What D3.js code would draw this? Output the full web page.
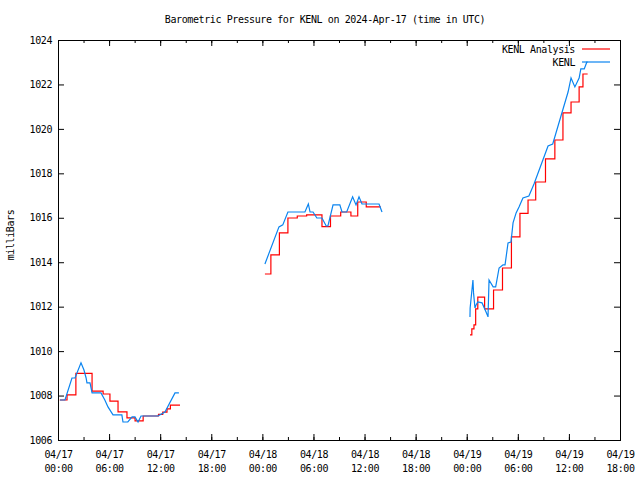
<!DOCTYPE html>
<meta charset="utf-8">
<title>Barometric Pressure for KENL</title>
<style>

    body {
        margin: 0;
        background: #fff;
    }

    text {
        font-family: "DejaVu Sans Mono", monospace;
        font-size: 10px;
        letter-spacing: -0.4px;
        fill: #000;
    }

    .line {
        fill: none;
        stroke-width: 1.2px;
    }

</style>
<body>
<script src="https://cdnjs.cloudflare.com/ajax/libs/d3/7.8.5/d3.min.js"></script>
<script>

    // hours after 2024-04-17 00:00 UTC, pressure in mb
    var analysisHours1 = [0.2, 1.06, 2.1, 4.0, 5.3, 6.1, 7.05, 8.1, 9.05, 10.0, 11.8, 12.3, 12.8, 13.2, 14.33],
        analysisValues1 = [1007.8, 1008.03, 1009.0, 1008.2, 1008.07, 1007.75, 1007.27, 1007.0, 1006.86, 1007.08, 1007.15, 1007.25, 1007.4, 1007.57, 1007.57];

    var analysisHours2 = [24.3, 25.0, 26.0, 27.0, 28.1, 29.2, 31.0, 32.0, 33.2, 34.4, 35.2, 36.2, 37.9],
        analysisValues2 = [1013.47, 1014.33, 1015.32, 1015.99, 1016.08, 1016.13, 1015.6, 1016.08, 1016.26, 1016.08, 1016.71, 1016.49, 1016.49];

    var analysisHours3 = [48.38, 48.6, 48.85, 49.05, 49.3, 50.1, 51.15, 52.2, 53.25, 54.25, 55.2, 56.1, 57.25, 58.35, 59.3, 60.25, 61.2, 61.65, 62.2],
        analysisValues3 = [1010.73, 1011.0, 1011.18, 1011.9, 1012.43, 1011.9, 1012.75, 1013.74, 1015.14, 1016.2, 1016.8, 1017.61, 1018.65, 1019.5, 1020.72, 1021.21, 1021.89, 1022.47, 1022.47];

    var obsHours1 = [0.23, 0.82, 1.64, 2.0, 2.7, 3.05, 3.3, 3.4, 3.76, 4.0, 5.05, 5.5, 5.87, 6.46, 7.5, 7.63, 8.2, 8.7, 9.04, 9.4, 9.75, 11.74, 12.56, 13.74, 14.2],
        obsValues1 = [1007.8, 1007.8, 1008.79, 1008.79, 1009.47, 1009.15, 1008.79, 1008.57, 1008.57, 1008.12, 1008.12, 1007.8, 1007.49, 1007.13, 1007.13, 1006.81, 1006.81, 1007.04, 1007.04, 1006.81, 1007.08, 1007.08, 1007.26, 1008.12, 1008.12];

    var obsHours2 = [24.3, 25.95, 26.4, 27.0, 29.0, 29.4, 29.6, 29.95, 30.4, 31.0, 31.5, 31.7, 32.3, 33.1, 33.35, 33.9, 34.6, 35.0, 35.35, 35.7, 37.7, 38.05],
        obsValues2 = [1013.92, 1015.59, 1015.68, 1016.26, 1016.26, 1016.62, 1016.26, 1016.26, 1015.99, 1015.99, 1015.63, 1015.63, 1016.58, 1016.58, 1016.26, 1016.26, 1016.94, 1016.58, 1016.94, 1016.62, 1016.62, 1016.26];

    var obsHours3 = [48.38, 48.4, 48.73, 48.8, 48.97, 49.1, 49.3, 49.8, 50.27, 50.5, 50.62, 51.1, 51.4, 51.8, 52.26, 52.5, 52.85, 53.2, 53.44, 53.8, 54.14, 54.6, 55.3, 55.9, 57.55, 58.1, 59.9, 60.25, 60.7, 61.2, 61.4, 61.8, 62.1, 62.2],
        obsValues3 = [1011.54, 1011.94, 1013.2, 1012.62, 1011.94, 1012.08, 1012.21, 1012.17, 1011.76, 1011.54, 1013.2, 1012.89, 1012.89, 1013.74, 1013.88, 1013.88, 1014.87, 1014.91, 1015.77, 1016.22, 1016.49, 1016.89, 1016.98, 1017.52, 1019.23, 1019.32, 1021.66, 1022.29, 1021.89, 1022.29, 1022.7, 1022.7, 1023.0, 1023.0];

    var yTicks = [1006, 1008, 1010, 1012, 1014, 1016, 1018, 1020, 1022, 1024];

    var title = "Barometric Pressure for KENL on 2024-Apr-17 (time in UTC)",
        yLabel = "milliBars",
        analysisName = "KENL Analysis",
        obsName = "KENL",
        analysisColor = "#ff0000",
        obsColor = "#0a84f0";

    var w = 640,
        h = 480,
        plotLeft = 58,
        plotRight = 620,
        plotTop = 40,
        plotBottom = 440;

    var t0 = Date.UTC(2024, 3, 17, 0);

    function toDate(hr) {
        return new Date(t0 + hr * 3600e3);
    }

    function pairs(hours, values) {
        return hours.map(function(d, i) { return {t: toDate(d), v: values[i]}; });
    }

    var x = d3.scaleUtc()
        .domain([toDate(0), toDate(66)])
        .range([plotLeft, plotRight]);

    var y = d3.scaleLinear()
        .domain([1006, 1024])
        .range([plotBottom, plotTop]);

    var svg = d3.select("body").append("svg")
        .attr("width", w)
        .attr("height", h);

    var majorX = d3.utcHour.every(6).range(toDate(0), toDate(66.1)),
        minorX = d3.utcHour.every(3).range(toDate(0), toDate(66.1));

    function noDomain(g) {
        g.select(".domain").remove();
        g.attr("font-family", null).attr("font-size", null);
    }

    // minor ticks bottom and top
    svg.append("g")
        .attr("transform", "translate(0," + plotBottom + ")")
        .call(d3.axisBottom(x).tickValues(minorX).tickSizeInner(-3).tickSizeOuter(0).tickFormat(""))
        .call(noDomain);

    svg.append("g")
        .attr("transform", "translate(0," + plotTop + ")")
        .call(d3.axisTop(x).tickValues(minorX).tickSizeInner(-3).tickSizeOuter(0).tickFormat(""))
        .call(noDomain);

    var xAxis = svg.append("g")
        .attr("transform", "translate(0," + plotBottom + ")")
        .call(d3.axisBottom(x).tickValues(majorX).tickSizeInner(-6).tickSizeOuter(0))
        .call(noDomain);

    xAxis.selectAll("text").each(function(d) {
        var txt = d3.select(this).text("").attr("y", null).attr("dy", null);
        txt.append("tspan").attr("x", 0).attr("y", 18).text(d3.utcFormat("%m/%d")(d));
        txt.append("tspan").attr("x", 0).attr("y", 32).text(d3.utcFormat("%H:%M")(d));
    });

    svg.append("g")
        .attr("transform", "translate(0," + plotTop + ")")
        .call(d3.axisTop(x).tickValues(majorX).tickSizeInner(-6).tickSizeOuter(0).tickFormat(""))
        .call(noDomain);

    svg.append("g")
        .attr("transform", "translate(" + plotLeft + ",0)")
        .call(d3.axisLeft(y).tickValues(yTicks).tickSizeInner(-6).tickSizeOuter(0).tickPadding(6).tickFormat(d3.format("d")))
        .call(noDomain);

    svg.append("g")
        .attr("transform", "translate(" + plotRight + ",0)")
        .call(d3.axisRight(y).tickValues(yTicks).tickSizeInner(-6).tickSizeOuter(0).tickFormat(""))
        .call(noDomain);

    svg.append("rect")
        .attr("x", plotLeft)
        .attr("y", plotTop)
        .attr("width", plotRight - plotLeft)
        .attr("height", plotBottom - plotTop)
        .attr("fill", "none")
        .attr("stroke", "#000")
        .attr("shape-rendering", "crispEdges");

    var stepLine = d3.line()
        .curve(d3.curveStepAfter)
        .x(function(d) { return x(d.t); })
        .y(function(d) { return y(d.v); });

    var plainLine = d3.line()
        .x(function(d) { return x(d.t); })
        .y(function(d) { return y(d.v); });

    [[analysisHours1, analysisValues1], [analysisHours2, analysisValues2], [analysisHours3, analysisValues3]]
        .forEach(function(s) {
            svg.append("path")
                .attr("class", "line")
                .attr("stroke", analysisColor)
                .attr("d", stepLine(pairs(s[0], s[1])));
        });

    [[obsHours1, obsValues1], [obsHours2, obsValues2], [obsHours3, obsValues3]]
        .forEach(function(s) {
            svg.append("path")
                .attr("class", "line")
                .attr("stroke", obsColor)
                .attr("d", plainLine(pairs(s[0], s[1])));
        });

    // legend
    var legend = [{name: analysisName, color: analysisColor, y: 49},
                  {name: obsName, color: obsColor, y: 62}];

    var lg = svg.selectAll(".legend")
        .data(legend)
        .enter().append("g")
        .attr("class", "legend");

    lg.append("text")
        .attr("x", 575)
        .attr("y", function(d) { return d.y; })
        .attr("dy", "0.35em")
        .attr("text-anchor", "end")
        .text(function(d) { return d.name; });

    lg.append("line")
        .attr("x1", 582)
        .attr("x2", 610)
        .attr("y1", function(d) { return d.y; })
        .attr("y2", function(d) { return d.y; })
        .attr("stroke", function(d) { return d.color; })
        .attr("stroke-width", 1.2);

    svg.append("text")
        .attr("x", 325)
        .attr("y", 23)
        .attr("text-anchor", "middle")
        .text(title);

    svg.append("text")
        .attr("transform", "translate(14,235)rotate(-90)")
        .attr("text-anchor", "middle")
        .text(yLabel);

</script>
